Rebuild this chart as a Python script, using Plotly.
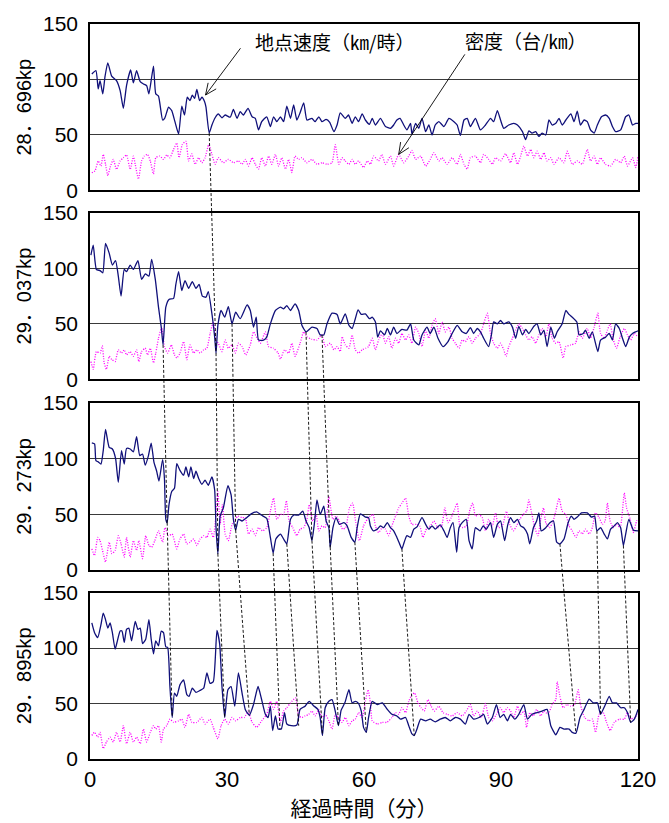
import math
import plotly.graph_objects as go

# ---------------- data (minutes, value) ----------------
PANEL_LABELS = ["28．696kp", "29．037kp", "29．273kp", "29．895kp"]
X_TICKS = [0, 30, 60, 90, 120]
Y_TICKS = [0, 50, 100, 150]

SPEED_1 = [(0.4,105),(1.3,108),(1.8,91.5),(2.2,99),(2.8,87),(3.3,103),(3.9,115),(4.75,103),(5.8,99),(6.6,90),(7.3,74),(8.0,94.5),(8.9,108.6),(9.5,97),(10.2,108),(11.0,98),(11.7,96),(12.4,94.5),(12.9,87),(13.9,112),(14.4,87),(15.0,85),(15.9,63.5),(16.4,65.5),(17.2,75),(17.9,72),(18.6,62),(19.4,50.8),(20.1,76),(20.7,68),(21.3,84),(21.9,81),(22.4,86),(22.9,83),(23.4,91),(24.0,81),(24.5,84),(25.1,80),(25.4,75),(26.1,51.7),(26.7,59),(27.4,65.5),(28.1,69),(28.9,65.5),(29.6,68),(30.7,66),(31.4,73),(32.2,65),(32.9,71),(33.6,68),(34.6,74),(35.5,66.4),(36.2,65),(36.9,54.6),(37.6,62),(38.7,66.4),(39.5,57.6),(40.2,66.4),(40.9,62),(41.7,66.4),(42.4,62),(43.1,76),(43.9,65),(44.6,77),(45.3,63.5),(46.0,70),(46.8,79),(47.5,63.5),(48.6,65),(49.3,62),(50.1,66.4),(50.8,62),(51.7,64),(52.5,61.4),(53.4,53),(54.1,59),(54.8,70),(55.9,65),(56.6,68),(57.4,60.5),(58.1,66.4),(58.8,62),(59.6,69),(60.3,63.5),(61.2,59.6),(61.8,65),(62.5,59),(63.6,65),(64.7,57.6),(65.8,56),(66.5,59),(67.2,63.5),(67.9,65),(68.7,59),(69.4,54.6),(70.2,60.5),(70.5,50.8),(71.3,60.5),(72.0,56),(72.7,65),(73.5,53),(74.2,59),(74.9,50),(75.6,59),(76.4,62),(77.5,57.6),(78.6,65),(79.7,62),(80.4,59),(81.1,49.6),(81.9,63.5),(82.6,65),(83.3,57.6),(84.4,65),(85.5,54.6),(86.6,59),(87.7,65),(88.4,62),(89.2,72),(89.9,63.5),(90.6,56),(91.7,59),(92.8,60.5),(93.6,59),(94.7,53),(95.4,45.8),(96.1,53.7),(96.8,51.7),(97.6,53),(98.3,48.7),(99.0,51.7),(99.8,50),(100.5,63.5),(101.2,59),(102.0,60.5),(102.7,65),(103.4,59),(104.2,63.5),(105.3,69),(106.0,62),(106.7,71.5),(107.4,59),(108.2,63.5),(108.9,62),(109.6,54.6),(110.4,51.7),(111.1,59),(112.0,66.4),(112.9,68),(113.7,65),(114.4,57.6),(115.1,53),(116.2,54.6),(117.3,66.4),(118.0,68),(118.8,59),(119.5,60.5),(120.0,60.5)]

DENSITY_1 = [(0.4,16),(1.1,17.7),(1.8,26.6),(2.4,22),(2.9,32.5),(3.4,23.6),(3.9,13.3),(4.4,20.7),(5.1,28),(5.8,19),(6.6,26.6),(7.3,29.5),(8.0,32),(8.8,19),(9.5,31),(9.9,23.6),(10.6,10.3),(11.3,26.6),(11.9,31),(12.6,32.5),(13.2,26.6),(13.9,14.8),(14.4,29.5),(15.3,31),(16.1,28),(16.8,32),(17.5,29.5),(18.3,37),(19.0,42.8),(19.5,29.5),(20.2,41.3),(21.0,44.3),(21.6,26.6),(22.3,33),(23.0,23.6),(23.8,29.5),(24.5,25),(25.2,29.5),(26.0,41.3),(26.7,32.5),(27.4,23.6),(28.1,29.5),(29.2,25),(30.3,28),(31.4,25),(32.5,26.6),(33.3,23.6),(34.0,28),(34.7,22),(35.5,29.5),(36.2,23.6),(36.9,19.2),(37.6,29.5),(38.4,22),(39.1,31),(39.8,23.6),(40.6,32.5),(41.3,22),(42.0,29.5),(42.8,19.2),(43.5,28),(44.2,16.2),(44.9,31),(45.7,28),(46.4,29.5),(47.5,25),(48.6,28),(49.7,23.6),(50.8,25),(51.9,23.6),(53.0,25),(53.7,41.3),(54.5,23.6),(55.2,29.5),(55.9,26.6),(56.7,23.6),(57.4,28),(58.1,23.6),(58.8,26.6),(59.9,20.7),(60.7,26.6),(61.4,23.6),(62.1,31),(63.2,26.6),(63.9,32.5),(64.7,23.6),(65.8,31),(66.5,22),(67.6,32.5),(68.7,25),(69.8,31),(70.5,36),(71.3,28),(72.4,31),(73.5,22),(74.5,28),(75.3,34),(76.4,26.6),(77.1,29.5),(78.2,23.6),(79.3,29.5),(80.4,23.6),(81.1,32.5),(81.9,23.6),(82.6,19.2),(83.3,29.5),(84.4,31),(85.5,25),(86.2,32.5),(87.3,28),(88.1,23.6),(88.8,29.5),(89.9,26.6),(91.0,33),(92.1,25),(92.8,34),(93.6,23.6),(94.3,31),(95.0,40),(95.8,31),(96.5,37),(97.2,29.5),(97.9,35.4),(98.7,28),(99.4,34),(100.1,26.6),(100.9,29.5),(101.6,23.6),(102.7,29.5),(103.8,25),(104.5,35.4),(105.6,23.6),(106.7,26.6),(107.8,23.6),(108.9,37),(109.6,26.6),(110.4,31),(111.1,23.6),(111.8,29.5),(112.9,23.6),(114.0,22),(115.1,28),(116.2,25),(117.0,31),(117.7,22),(118.8,29.5),(119.5,20.7),(120.0,31)]

SPEED_2 = [(0.2,112),(0.7,121),(1.4,99),(2.2,98),(2.8,96),(3.4,122.5),(4.2,113.7),(4.9,103),(5.6,107),(6.2,93),(6.8,75),(7.5,99),(8.0,97),(8.8,103),(9.5,99),(10.5,107),(11.3,90),(12.1,95),(12.9,93),(13.5,108),(14.3,90),(15.0,65),(15.6,47),(16.0,31),(16.6,65),(17.3,72),(18.3,73),(18.8,85.6),(19.4,97),(20.1,80),(20.8,89),(21.6,82),(22.4,88),(23.2,82),(23.9,85.6),(24.6,75),(25.4,74),(25.9,79),(26.7,59),(27.3,38),(27.6,23.6),(28.0,48.7),(28.7,62),(29.5,56),(30.3,65.5),(31.1,50),(31.9,60.5),(32.9,54.6),(34.4,67),(35.1,62),(35.8,47),(36.4,56),(36.9,35.4),(38.0,35.4),(38.7,38),(39.5,50),(40.6,62),(41.7,65),(42.4,63.5),(43.1,66.4),(43.9,62),(44.9,68),(45.7,62),(46.4,48.7),(47.3,42.8),(48.6,47),(49.7,45.8),(50.4,40),(51.2,40),(51.9,50),(53.0,59.6),(54.1,58.5),(54.8,50),(55.9,59),(56.7,48.7),(57.4,45.8),(58.1,54.6),(58.7,62.6),(59.4,58.5),(60.3,59),(61.2,54.6),(61.8,56),(62.5,51.7),(63.0,38),(63.6,43.7),(64.5,40),(65.1,45.8),(65.8,40),(66.5,47),(67.2,41.3),(68.3,45),(69.4,44.3),(70.2,50),(70.9,35.4),(72.0,31),(72.7,40),(73.8,47),(74.5,41.3),(75.3,47),(76.2,37),(77.3,29.5),(78.4,34),(79.3,41.3),(80.4,48.7),(81.5,42.8),(82.4,41.3),(83.3,46.6),(84.0,41.3),(84.8,45.8),(85.5,42.8),(86.2,37),(87.3,29.5),(87.9,40),(88.4,51.7),(89.2,50),(89.9,53),(90.6,50),(91.7,51.7),(92.5,47),(93.2,37),(93.9,47.8),(94.7,40),(95.4,45),(96.1,41.3),(97.2,47.8),(97.9,50),(98.7,40),(99.4,44.3),(100.1,29.5),(100.9,47),(101.7,37),(102.3,42.8),(103.4,50),(104.2,62),(104.9,58.5),(105.6,56),(106.6,51.7),(107.1,40),(108.0,41.3),(108.5,44.3),(109.3,37),(110.0,42.8),(111.2,25),(111.8,35.4),(112.9,38),(113.7,41.3),(114.4,35.4),(115.1,50),(115.9,45.8),(116.6,37),(117.3,29.5),(118.1,38),(118.8,41.3),(119.5,42.8),(120.0,43.7)]

DENSITY_2 = [(0.2,16),(0.7,9),(1.4,25),(2.2,23.6),(2.7,30),(3.1,14.8),(3.6,9),(4.2,20.7),(4.8,17.7),(5.5,16),(6.2,26.6),(6.9,23.6),(7.5,26.6),(8.0,22),(8.8,25),(9.5,20.7),(10.2,26.6),(10.7,16),(11.3,25),(12.1,28),(12.6,22),(13.2,28),(13.9,14.8),(14.4,23.6),(15.0,37),(15.7,47),(16.3,29.5),(17.0,23.6),(17.8,31),(18.5,22),(19.0,19.2),(19.7,23.6),(20.5,34),(21.2,17.7),(21.9,31),(22.7,23.6),(23.4,26.6),(24.1,23.6),(24.9,26.6),(25.6,28),(26.3,41.3),(27.0,51.7),(27.6,35.4),(28.1,32.5),(28.9,25),(29.6,35.4),(30.3,28),(31.1,31),(31.8,23.6),(32.5,32.5),(33.3,29.5),(34.1,22),(35.1,31),(35.8,42.8),(36.6,37),(37.3,32.5),(38.4,42.8),(39.1,29.5),(40.2,28),(41.2,23.6),(41.7,18.3),(42.6,26.6),(43.5,23.6),(44.2,32.5),(44.9,20.7),(46.0,32.5),(46.8,42.8),(47.5,38.4),(48.6,36),(49.7,35.4),(50.8,40),(51.5,29.5),(52.6,32.5),(53.4,26.6),(54.1,29.5),(54.8,25),(55.2,38.4),(55.9,31),(56.7,28),(57.4,40),(58.1,26.6),(58.8,23.6),(59.6,26.6),(60.4,28),(61.0,29.5),(61.8,37),(62.5,26.6),(63.2,35.4),(64.0,41.3),(64.7,32.5),(65.4,38.4),(66.1,28),(66.9,37),(67.6,32.5),(68.3,41.3),(69.1,35.4),(69.8,40),(70.5,32.5),(71.3,47),(72.0,41.3),(72.7,29.5),(73.5,44.3),(74.2,37),(74.9,48.7),(75.6,54.6),(76.4,41.3),(77.1,51.7),(77.8,42.8),(78.6,47),(79.3,37),(80.0,32.5),(80.8,28),(81.5,35.4),(82.2,34),(83.0,38.4),(83.7,32.5),(84.4,37),(85.5,41.3),(86.2,50),(87.0,59.6),(87.7,41.3),(88.4,32.5),(89.2,28),(89.9,32.5),(90.6,26.6),(91.1,20.7),(91.7,29.5),(92.5,37),(93.2,44.3),(93.9,50),(94.7,45.8),(95.4,40),(96.1,35.4),(96.8,38.4),(97.6,32.5),(98.3,40),(99.0,45.8),(99.8,38.4),(100.5,50),(101.2,37),(102.0,32.5),(102.7,34),(103.6,19.2),(104.2,29.5),(105.3,31),(106.3,32.5),(107.1,42.8),(107.8,37),(108.9,45.8),(109.6,37),(110.4,47),(111.2,59.6),(111.8,41.3),(112.6,37),(113.3,44.3),(113.9,50),(114.6,35.4),(115.3,28),(116.1,38.4),(117.0,45.8),(117.7,40),(118.4,35.4),(119.2,41.3),(119.9,38.4)]

SPEED_3 = [(0.4,114),(1.0,113),(1.3,98),(1.8,97),(2.4,95),(2.9,107),(3.4,126),(4.2,110),(4.9,108.5),(5.6,100),(6.2,78.6),(6.9,107),(7.5,95),(8.0,109),(8.8,108.5),(9.5,106),(10.2,119.6),(10.9,102.6),(11.5,104),(12.1,94),(12.8,102.6),(13.4,113.8),(14.0,96.8),(14.6,88.6),(15.1,79.8),(15.9,99),(16.3,82),(16.6,45.5),(16.9,42.5),(17.3,58.7),(17.9,70.4),(18.5,73.3),(19.0,95.3),(19.7,89.4),(20.5,85),(21.0,92.4),(21.6,83.6),(22.1,92.4),(22.7,82),(23.2,88.6),(23.8,82),(24.5,76.8),(25.2,80.6),(25.9,76),(26.7,83.6),(27.3,71.8),(27.6,38),(28.0,14.7),(28.5,48.4),(29.2,55.7),(30.2,75.7),(30.9,67.4),(31.4,45.5),(31.9,35.8),(32.5,45.5),(33.3,44),(34.1,46.3),(35.3,50.4),(36.5,52.2),(37.5,49.3),(38.7,46.3),(39.5,29.3),(40.1,15.2),(40.7,27.9),(41.7,32.3),(42.6,26.4),(43.1,23.5),(43.9,45.5),(44.6,49.3),(45.7,49.3),(46.6,52.8),(47.3,44),(48.0,38),(48.6,26.4),(49.2,44),(49.7,63),(50.4,49.9),(51.2,57.2),(51.7,44),(52.3,38),(52.6,20.5),(53.2,38),(53.9,47),(54.6,41),(55.6,42.5),(56.3,39.6),(57.2,29.3),(58.0,25),(58.5,38),(59.2,50.4),(60.3,47.5),(61.0,47),(61.4,39.6),(62.1,35.2),(62.9,36.7),(63.6,39.6),(64.3,38),(65.1,42.5),(65.8,38),(66.5,35.2),(67.2,29.3),(67.8,23.5),(68.3,19),(68.8,25),(69.4,30.8),(70.2,29.3),(70.9,36.7),(71.6,38.7),(72.7,47),(73.5,41),(74.2,36.7),(74.9,39.6),(75.6,36.7),(76.7,40.5),(77.5,35.2),(78.2,29.3),(78.9,38),(79.5,42.5),(80.3,16),(80.8,38),(81.5,42.5),(82.4,45.5),(83.0,26.4),(83.7,19),(84.4,38),(85.4,35.2),(86.1,39.6),(86.8,36.7),(87.7,42.5),(88.4,29.3),(89.2,41),(89.9,44),(90.8,26.4),(91.5,41),(92.1,47),(92.8,42.5),(93.6,45.5),(94.3,39.6),(95.0,38),(95.8,32.3),(96.3,23.5),(97.1,38),(97.8,44),(98.3,51.3),(98.8,35.2),(99.8,38),(100.7,42.5),(101.5,44),(102.2,25),(102.9,23.5),(103.8,27.9),(104.7,42.5),(105.4,48.4),(106.0,45.5),(106.7,47.5),(107.6,51.3),(108.9,51.3),(109.8,47.5),(110.5,48.4),(111.0,35.2),(111.8,38),(112.6,32.3),(113.3,27.9),(114.0,36.7),(114.8,39.6),(115.5,42.5),(116.2,38),(116.8,22),(117.3,32.3),(118.0,45.5),(119.0,35.8),(120.0,35.2)]

DENSITY_3 = [(0.4,19),(1.0,13.2),(1.7,29.3),(2.2,26.4),(2.9,14.7),(3.4,7.3),(4.2,25),(4.8,14.7),(5.5,17.6),(6.2,30.8),(6.8,23.5),(7.5,11.7),(8.0,29.3),(8.8,11.7),(9.5,26.4),(10.2,17.6),(10.7,26.4),(11.5,10.3),(12.2,30.8),(12.9,22),(13.5,20.5),(14.2,26.4),(15.0,35.2),(15.9,25),(16.4,38),(17.2,30.8),(18.0,32.3),(19.0,19),(19.7,27.9),(20.5,32.3),(21.2,23.5),(21.9,25),(22.7,27.9),(23.4,22),(24.1,27.9),(24.9,30.8),(25.6,29.3),(26.3,36.7),(27.0,29.3),(27.6,49.9),(28.0,70.4),(28.5,41),(29.0,58.7),(29.6,32.3),(30.3,26.4),(31.1,41),(31.8,45.5),(32.4,48.4),(33.3,47),(34.0,47),(34.7,32.3),(35.5,36.7),(36.2,30.8),(36.9,38),(37.8,35.2),(38.7,38),(39.5,52.8),(40.2,64.5),(40.9,45.5),(41.7,49.9),(42.4,49.9),(43.0,62.2),(43.6,44),(44.4,38),(45.3,30.8),(46.0,36.7),(46.8,38),(47.5,45.5),(48.0,58.7),(48.8,44),(49.5,49.9),(50.1,35.2),(50.8,39.6),(51.5,38),(52.3,66),(52.6,58.7),(53.2,45.5),(53.9,48.4),(54.6,44),(55.3,36.7),(56.0,38),(56.8,55.7),(57.5,60),(58.2,42.5),(59.0,26.4),(59.9,39.6),(60.7,45.5),(61.4,48.4),(62.0,49.9),(62.5,39.6),(63.2,33.7),(64.0,38),(64.7,36.7),(65.4,30.8),(66.1,39.6),(66.9,48.4),(67.6,55.7),(68.3,60),(69.1,64.5),(69.8,48.4),(70.5,41),(71.5,41),(72.2,39.6),(72.9,29.3),(73.8,38),(74.5,39.6),(75.3,44),(76.2,38),(77.0,39.6),(77.7,55.7),(78.4,42.5),(79.1,47),(79.8,54.2),(80.4,60),(81.0,39.6),(81.7,38),(82.4,39.6),(83.2,54.2),(83.8,60),(84.4,48.4),(85.2,49.9),(85.9,47),(86.6,35.2),(87.3,45.5),(88.1,39.6),(88.8,51.3),(89.5,38),(90.3,39.6),(91.2,52.8),(91.9,41),(92.7,35.2),(93.4,39.6),(94.1,45.5),(94.9,49.9),(95.6,52.8),(96.1,63),(96.7,51.3),(97.4,38),(98.1,30.8),(98.7,45.5),(99.3,55.7),(99.8,42.5),(100.6,38),(101.3,42.5),(102.0,52.8),(102.7,64.5),(103.4,52.8),(104.2,49.9),(104.9,39.6),(105.6,35.2),(106.4,29.3),(107.1,35.2),(107.8,32.3),(108.5,36.7),(109.3,32.3),(110.0,38),(110.7,51.3),(111.5,47),(112.2,41),(112.8,44),(113.3,60),(113.9,44),(114.6,38),(115.3,41),(116.1,38),(117.0,69),(117.5,55.7),(118.3,45.5),(119.0,33.7),(119.7,44),(120.0,45.5)]

SPEED_4 = [(0.4,122.6),(1.0,113.8),(1.7,109.4),(2.4,121),(2.9,131.5),(3.4,125.6),(3.9,118),(4.4,122.6),(4.9,113.8),(5.5,99),(6.0,106.5),(6.6,115.3),(7.0,115.3),(7.5,105),(8.0,116.8),(8.5,118),(9.1,106.5),(9.9,124),(10.5,116.8),(11.0,118),(11.5,104),(12.2,108),(12.9,125.6),(13.4,108),(13.9,94.7),(14.4,106.5),(15.0,102),(15.6,115.3),(16.1,113.8),(16.6,101),(17.0,100.6),(17.5,65.3),(18.0,37.4),(18.5,59.4),(19.0,56.5),(19.7,66.8),(20.5,71.2),(21.2,58),(21.7,56.5),(22.4,63.8),(23.2,60),(24.1,61.8),(24.9,63.8),(25.6,77.6),(26.3,68.2),(27.0,69.7),(27.8,115.9),(28.4,103.5),(28.9,65.3),(29.5,37.4),(30.2,62.4),(30.9,65.3),(31.7,47.6),(32.5,77.6),(33.3,59.4),(34.0,44.7),(34.9,39.4),(35.8,49),(36.8,65.3),(37.5,55),(38.4,40.3),(39.0,37.4),(39.5,47.6),(40.0,25.6),(40.6,38.8),(41.2,27),(41.9,27),(42.6,41.8),(43.1,31.5),(44.1,30),(45.3,30.6),(46.0,44.7),(47.1,47.6),(48.0,52),(48.9,48.2),(49.9,44.7),(50.4,37.4),(50.9,21.2),(51.5,46.2),(52.3,52),(53.0,53.5),(53.7,43.2),(54.4,30),(55.0,44),(55.8,50.6),(56.7,62.4),(57.4,50.6),(58.1,52),(58.7,50.6),(59.4,43.2),(59.9,28.5),(60.5,24),(61.0,37.4),(61.8,52),(62.9,49),(64.0,50.6),(65.0,45.3),(66.1,40.3),(67.2,38.8),(68.0,35.9),(69.1,37.4),(69.8,30),(70.5,22.6),(71.0,21.2),(71.6,27),(72.4,35.9),(73.5,34.4),(74.5,35.9),(75.6,33.5),(76.7,35.9),(77.8,37.4),(78.9,34.4),(80.0,37.4),(81.1,35.9),(82.2,31.5),(83.0,40.3),(84.0,35.9),(85.2,37.4),(86.2,40.3),(87.0,31.5),(88.1,37.4),(89.0,49),(89.8,37.4),(90.6,40.3),(91.4,34.4),(92.1,40.3),(93.0,35.9),(93.9,40.3),(95.0,49),(95.8,35.9),(96.8,40.3),(97.9,41.8),(99.0,43.2),(100.1,44.7),(100.9,30),(102.0,21.8),(102.9,28.5),(103.8,27),(104.9,27),(105.6,24),(106.4,23.2),(107.3,37.4),(108.2,44.7),(109.3,54),(110.2,50.6),(111.1,50.6),(111.8,40.3),(112.7,47.6),(113.7,56.5),(114.4,50.6),(115.3,50.6),(116.2,46.2),(117.0,46.2),(117.7,41.8),(118.4,33),(119.2,35.9),(120.0,44.7)]

DENSITY_4 = [(0.4,21.2),(1.0,24),(1.7,19.7),(2.2,24),(2.9,9.4),(3.6,15.3),(4.4,19.7),(5.1,15.3),(5.8,24),(6.6,15.3),(7.3,30),(8.0,13.8),(8.8,24),(9.5,15.3),(10.2,19.7),(11.0,13.8),(11.7,27),(12.4,15.3),(13.2,24),(13.9,30),(14.4,27),(15.0,30),(15.6,15.3),(16.1,27),(16.8,30),(17.5,35.9),(18.3,33),(19.4,34.4),(20.1,35.9),(20.8,28.5),(21.6,40.3),(22.3,33),(23.4,33),(24.5,37.4),(25.2,31.5),(26.3,35.9),(27.0,28.5),(28.0,18.2),(28.7,30),(29.5,35.9),(30.3,31.5),(31.1,37.4),(31.9,34.4),(32.9,37.4),(33.8,37.4),(34.6,43.2),(35.5,33),(36.5,28.5),(37.6,34.4),(38.7,40.3),(39.5,52),(40.2,44.7),(40.9,52),(41.7,33),(42.4,43.2),(43.1,46.2),(43.9,50.6),(45.0,55),(45.7,38.8),(46.4,37.4),(47.1,38.8),(47.9,40.3),(48.6,43.2),(49.3,38.8),(50.1,44.7),(50.8,37.4),(51.5,40.3),(52.3,34.4),(53.0,27),(53.7,40.3),(54.4,37.4),(55.2,33),(55.9,37.4),(56.7,30),(57.4,34.4),(58.1,35.9),(58.8,41.8),(59.6,37.4),(60.3,52),(60.9,62.4),(61.4,50.6),(61.8,34.4),(62.9,31.5),(64.0,33),(65.0,33),(66.1,37.4),(66.9,41.8),(67.6,40.3),(68.3,46.2),(69.1,41.8),(69.8,52),(70.5,58),(71.1,59.4),(71.8,50.6),(72.5,46.2),(73.2,43.2),(74.0,53.5),(74.7,47.6),(75.4,43.2),(76.4,47.6),(77.3,41.8),(78.2,40.3),(79.3,38.8),(80.4,41.8),(81.5,38.8),(82.4,43.2),(83.3,49),(84.0,38.8),(84.8,43.2),(85.7,37.4),(86.6,50),(87.3,37.4),(88.1,34.4),(89.0,40.3),(89.8,46.2),(90.6,41.8),(91.4,46.2),(92.1,43.2),(92.8,37.4),(93.6,47.6),(94.3,40.3),(95.0,43.2),(95.6,28.5),(96.3,41.8),(97.1,38.8),(97.8,44.7),(98.7,38.8),(99.4,43.2),(100.3,40.3),(101.2,49),(102.0,53.5),(102.3,69.7),(102.9,56.5),(103.6,46.2),(104.4,49),(105.3,47.6),(106.1,49),(106.9,62.4),(107.4,49),(108.3,37.4),(109.3,34.4),(110.0,35.9),(110.7,24),(111.5,40.3),(112.4,41.8),(113.1,33),(113.9,25.6),(114.8,33),(115.9,35.9),(117.0,35.9),(117.7,41.8),(118.4,35.9),(119.2,37.4),(120.0,40.3)]

SPEEDS = [SPEED_1, SPEED_2, SPEED_3, SPEED_4]
DENSITIES = [DENSITY_1, DENSITY_2, DENSITY_3, DENSITY_4]

# dashed connectors between speed dips: (t_from, panel_from, v_from, t_to, panel_to, v_to)
CONNECTORS = [
    (26.1, 1, 51.7, 27.6, 2, 23.6),
    (16.0, 2, 31, 16.9, 3, 42.5),
    (27.6, 2, 23.6, 28.0, 3, 14.7),
    (31.1, 2, 50, 31.9, 3, 35.8),
    (47.3, 2, 42.8, 48.6, 3, 26.4),
    (50.8, 2, 40, 52.6, 3, 20.5),
    (16.9, 3, 42.5, 18.0, 4, 37.4),
    (28.0, 3, 14.7, 29.5, 4, 37.4),
    (31.9, 3, 35.8, 34.9, 4, 39.4),
    (40.1, 3, 15.2, 41.6, 4, 27),
    (43.1, 3, 23.5, 45.7, 4, 30),
    (48.6, 3, 26.4, 50.9, 4, 21.2),
    (52.6, 3, 20.5, 54.4, 4, 30),
    (58.0, 3, 25, 60.5, 4, 24),
    (68.3, 3, 19, 71.0, 4, 21.2),
    (102.9, 3, 23.5, 106.4, 4, 23.2),
    (111.0, 3, 35.2, 111.8, 4, 40.3),
    (116.8, 3, 22, 118.4, 4, 33),
]

SPEED_LABEL = "地点速度（㎞/時）"
DENSITY_LABEL = "密度（台/㎞）"
X_TITLE = "経過時間（分）"
# (label, text x, text y, arrow head x, head y, arrow tail x, tail y) on the top panel
CALLOUTS = [
    (SPEED_LABEL, 35.8, 134, 25.3, 86, 33.2, 129.5),
    (DENSITY_LABEL, 81.7, 135.5, 67.6, 32.5, 82.3, 124),
]

# ---------------- layout constants ----------------
DOMAINS = [(0.7735, 1.0), (0.5166, 0.7430), (0.2570, 0.4848), (0.0, 0.2265)]
Y_MAX = 150
X_MAX = 120
MARGIN = dict(l=90, r=31, t=13, b=55)
W, H = 669, 823
FONT = "Liberation Sans, Arial, Noto Sans CJK JP"
CJK = "Noto Sans CJK JP, Liberation Sans"
NAVY = "#10107a"
MAGENTA = "#ff00ff"

fig = go.Figure()
for i in range(4):
    sfx = "" if i == 0 else str(i + 1)
    st, sv = zip(*SPEEDS[i])
    dt, dv = zip(*DENSITIES[i])
    fig.add_trace(go.Scatter(x=dt, y=dv, mode="lines", xaxis="x" + sfx, yaxis="y" + sfx,
                             line=dict(color=MAGENTA, width=1.3, dash="1px,1.5px", shape="spline", smoothing=0.5),
                             showlegend=False, hoverinfo="skip"))
    fig.add_trace(go.Scatter(x=st, y=sv, mode="lines", xaxis="x" + sfx, yaxis="y" + sfx,
                             line=dict(color=NAVY, width=1.3, shape="spline", smoothing=0.5),
                             showlegend=False, hoverinfo="skip"))

layout = dict(
    width=W, height=H, margin=MARGIN,
    paper_bgcolor="white", plot_bgcolor="white",
    font=dict(family=FONT, color="black"),
    showlegend=False,
)
for i in range(4):
    sfx = "" if i == 0 else str(i + 1)
    last = (i == 3)
    layout["xaxis" + sfx] = dict(
        domain=[0, 1], anchor="y" + sfx, range=[0, X_MAX],
        tickvals=X_TICKS, showticklabels=last, ticks="",
        showgrid=False, zeroline=False,
        showline=True, mirror=True, linecolor="black", linewidth=1.6,
        tickfont=dict(family=FONT, size=22, color="black"),
        title=dict(text=X_TITLE if last else "", font=dict(family=CJK, size=21, color="black"), standoff=4),
    )
    layout["yaxis" + sfx] = dict(
        domain=list(DOMAINS[i]), anchor="x" + sfx, range=[0, Y_MAX],
        tickvals=Y_TICKS, ticks="", ticklabelstandoff=6,
        showgrid=True, gridcolor="#3a3a3a", gridwidth=1.3, zeroline=False,
        showline=True, mirror=True, linecolor="black", linewidth=1.6,
        tickfont=dict(family=FONT, size=21, color="black"),
        title=dict(text=PANEL_LABELS[i], font=dict(family=FONT, size=20, color="black"), standoff=6),
    )
fig.update_layout(**layout)

def to_paper(panel, v):
    d0, d1 = DOMAINS[panel - 1]
    return d0 + (d1 - d0) * v / Y_MAX

for (t0, p0, v0, t1, p1, v1) in CONNECTORS:
    fig.add_shape(type="line", xref="x4", yref="paper",
                  x0=t0, y0=to_paper(p0, v0), x1=t1, y1=to_paper(p1, v1),
                  line=dict(color="black", width=0.9, dash="3px,2px"))

# pixel scale of the top panel (used only for the open "V" arrowhead arms)
PX_PER_X = (W - MARGIN["l"] - MARGIN["r"]) / X_MAX
PLOT_H = H - MARGIN["t"] - MARGIN["b"]
PX_PER_Y = PLOT_H * (DOMAINS[0][1] - DOMAINS[0][0]) / Y_MAX
HEAD_LEN, HEAD_ANG = 14, math.radians(24)

for (label, tx, ty, hx, hy, ax, ay) in CALLOUTS:
    fig.add_annotation(x=tx, y=ty, xref="x", yref="y", text=label, showarrow=False,
                       xanchor="left", yanchor="middle", font=dict(family=CJK, size=19, color="black"))
    fig.add_annotation(x=hx, y=hy, ax=ax, ay=ay, xref="x", yref="y", axref="x", ayref="y",
                       text="", showarrow=True, arrowhead=0, arrowwidth=0.9, arrowcolor="black")
    # direction from head to tail in screen pixels (y downwards)
    dx = (ax - hx) * PX_PER_X
    dy = -(ay - hy) * PX_PER_Y
    base = math.atan2(dy, dx)
    for s in (-1, 1):
        a = base + s * HEAD_ANG
        fig.add_annotation(x=hx, y=hy, xref="x", yref="y", text="", showarrow=True,
                           arrowhead=0, arrowwidth=0.9, arrowcolor="black",
                           ax=HEAD_LEN * math.cos(a), ay=HEAD_LEN * math.sin(a))

fig.write_html("out.html")
